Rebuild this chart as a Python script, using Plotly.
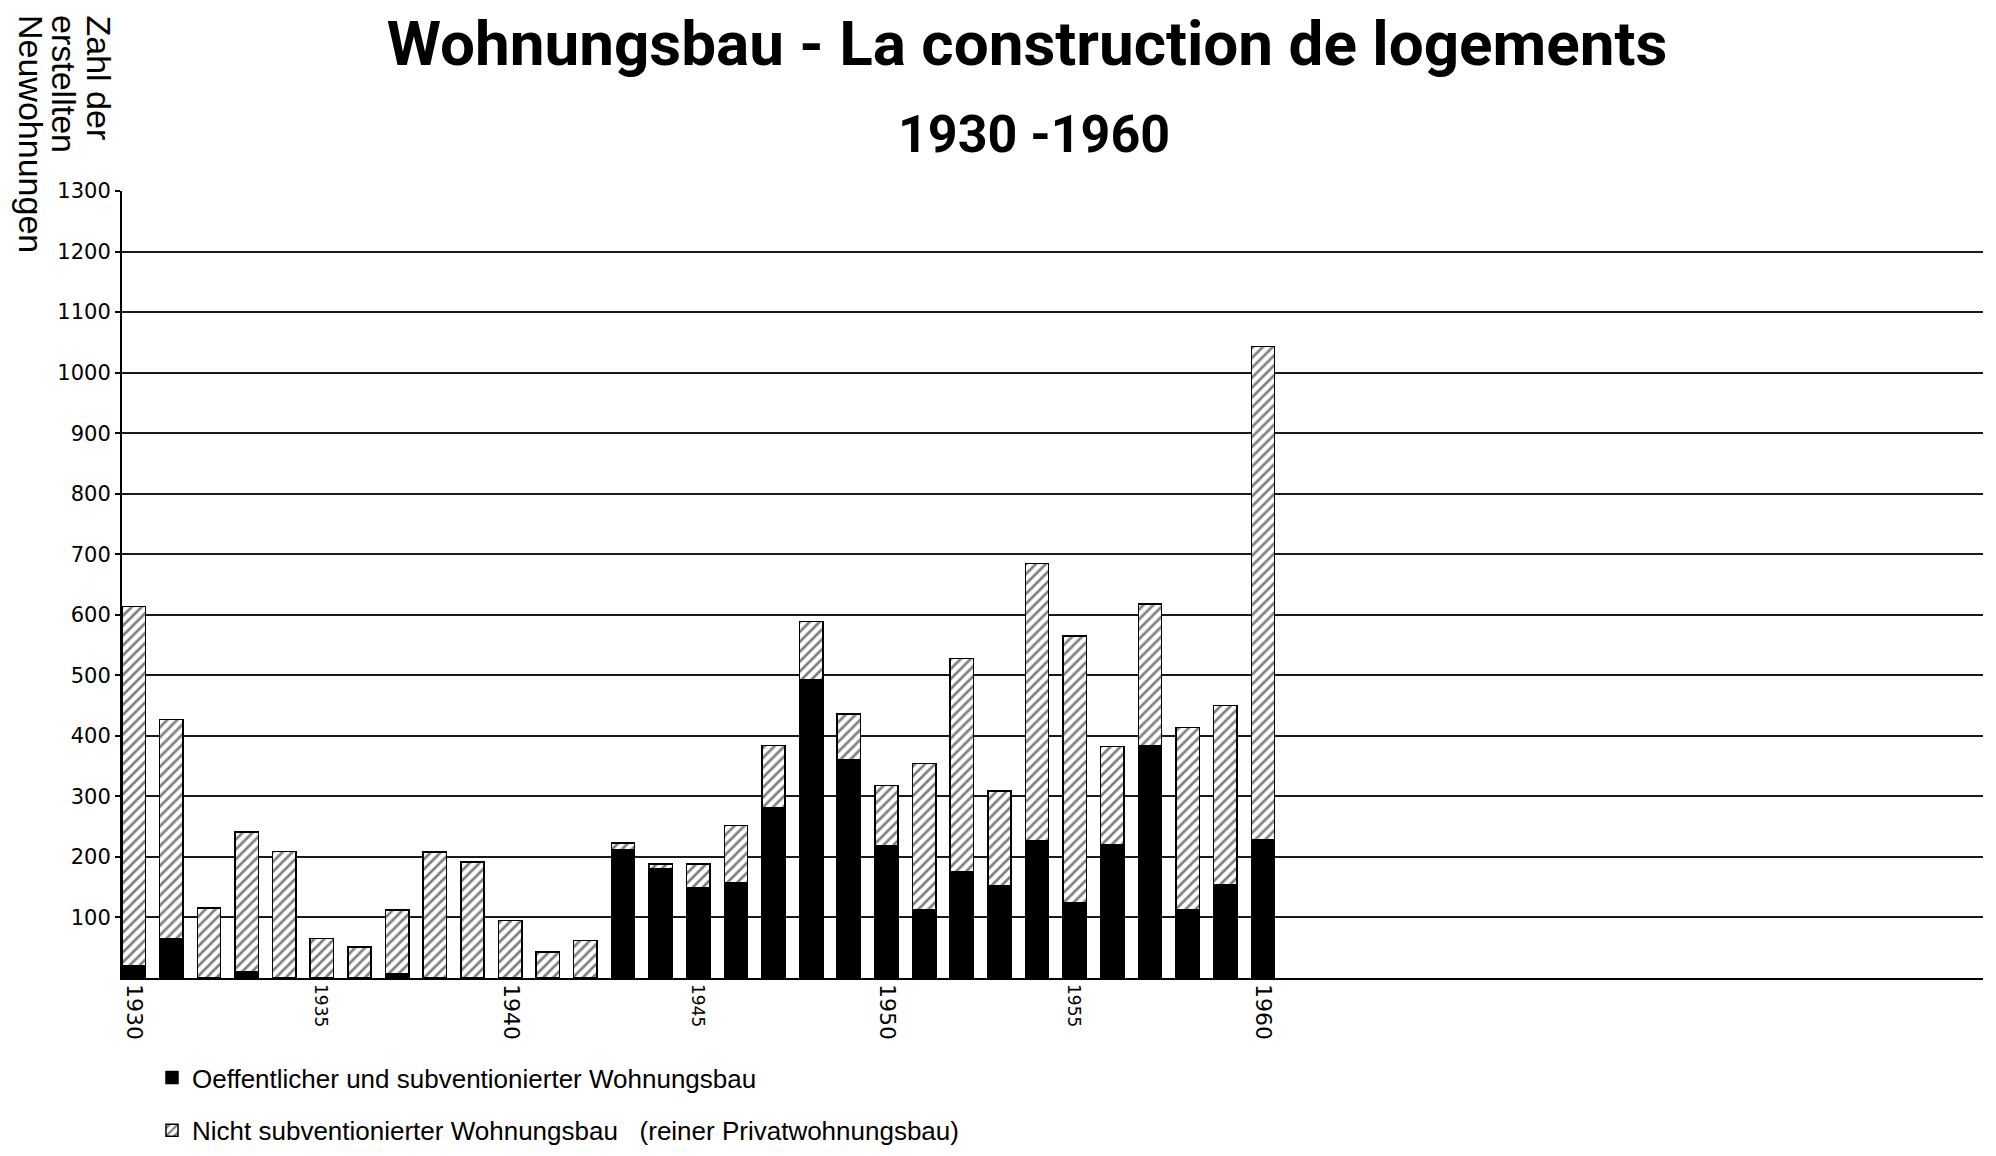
import plotly.graph_objects as go

years = list(range(1930, 1961))
public = [20, 65, 0, 10, 0, 0, 0, 7, 0, 0, 0, 0, 0, 212, 180, 149, 158, 282, 492, 360,
          219, 112, 176, 153, 227, 124, 220, 384, 113, 154, 229]
private = [594, 362, 116, 231, 209, 65, 51, 105, 208, 192, 95, 43, 62, 11, 8, 39, 94, 102, 97, 76,
           99, 242, 352, 156, 458, 441, 162, 234, 301, 296, 814]

ytick_vals = list(range(100, 1400, 100))
xtick_vals = [1930, 1935, 1940, 1945, 1950, 1955, 1960]
xtick_big = [True, False, True, False, True, False, True]

name_public = "Oeffentlicher und subventionierter Wohnungsbau"
name_private = "Nicht subventionierter Wohnungsbau&nbsp;&nbsp; (reiner Privatwohnungsbau)"

title_text = "<b>Wohnungsbau - La construction de logements</b>"
subtitle_text = "<b>1930 -1960</b>"
ytitle_lines = ["Zahl der", "erstellten", "Neuwohnungen"]

FONT = "Liberation Sans, Arial, sans-serif"
TFONT = "Roboto, Liberation Sans, sans-serif"
DFONT = "DejaVu Sans, sans-serif"

# the page body adds an 8px offset; the figure is sized to fill the window exactly
W, H = 1988, 1148
L, R, T, B = 114, 13, 183, 178
PW, PH = W - L - R, H - T - B


def px(x):
    return (x - L) / PW


def py(y):
    return (H - B - y) / PH


fig = go.Figure()
fig.add_trace(go.Bar(
    x=years, y=public, name=name_public, width=0.62,
    marker=dict(color="black", line=dict(color="black", width=1.5)),
    legendgroup="a",
))
fig.add_trace(go.Bar(
    x=years, y=private, name=name_private, width=0.62,
    marker=dict(color="white", line=dict(color="black", width=1.5),
                pattern=dict(shape="/", fgcolor="black", bgcolor="white", size=7, solidity=0.38)),
    legendgroup="b",
))

ticktext = [
    (f"<span style='font-size:22px'>{v}</span>" if big else f"<span style='font-size:17px'>{v}</span>")
    for v, big in zip(xtick_vals, xtick_big)
]

fig.update_layout(
    width=W, height=H,
    barmode="stack",
    paper_bgcolor="white", plot_bgcolor="white",
    margin=dict(l=L, r=R, t=T, b=B, autoexpand=False),
    font=dict(family=FONT, color="black"),
    title=dict(text=title_text, x=1019 / W, xanchor="center", y=1 - 35 / H, yanchor="middle",
               font=dict(family=TFONT, size=62, color="black")),
    xaxis=dict(range=[1929.69, 1979.13], tickmode="array", tickvals=xtick_vals, ticktext=ticktext,
               tickangle=90, showgrid=False, showline=True, linecolor="black", linewidth=2,
               ticks="", tickfont=dict(family=DFONT, size=20, color="black"), zeroline=False,
               automargin=False),
    yaxis=dict(range=[0, 1300], tickmode="array", tickvals=ytick_vals,
               showgrid=True, gridcolor="#1a1a1a", gridwidth=1.5,
               showline=True, linecolor="black", linewidth=2, zeroline=False,
               ticks="outside", ticklen=5, tickcolor="black", tickwidth=1.5,
               tickfont=dict(family=DFONT, size=21, color="black"), automargin=False),
    legend=dict(x=px(144), xanchor="left", y=py(1046), yanchor="top", orientation="v",
                traceorder="grouped", tracegroupgap=16, font=dict(size=26, color="black"),
                bgcolor="rgba(0,0,0,0)"),
    showlegend=True,
)

fig.add_annotation(text=subtitle_text, x=px(1026), y=py(126),
                   xref="paper", yref="paper", xanchor="center", yanchor="middle",
                   showarrow=False, font=dict(family=TFONT, size=52, color="black"))

col_x = [91, 56, 23]
for line, cx in zip(ytitle_lines, col_x):
    fig.add_annotation(text=line, x=px(cx), y=py(5),
                       xref="paper", yref="paper", xanchor="center", yanchor="top",
                       textangle=90, showarrow=False,
                       font=dict(family=FONT, size=34, color="black"))

fig.write_html("out.html")
